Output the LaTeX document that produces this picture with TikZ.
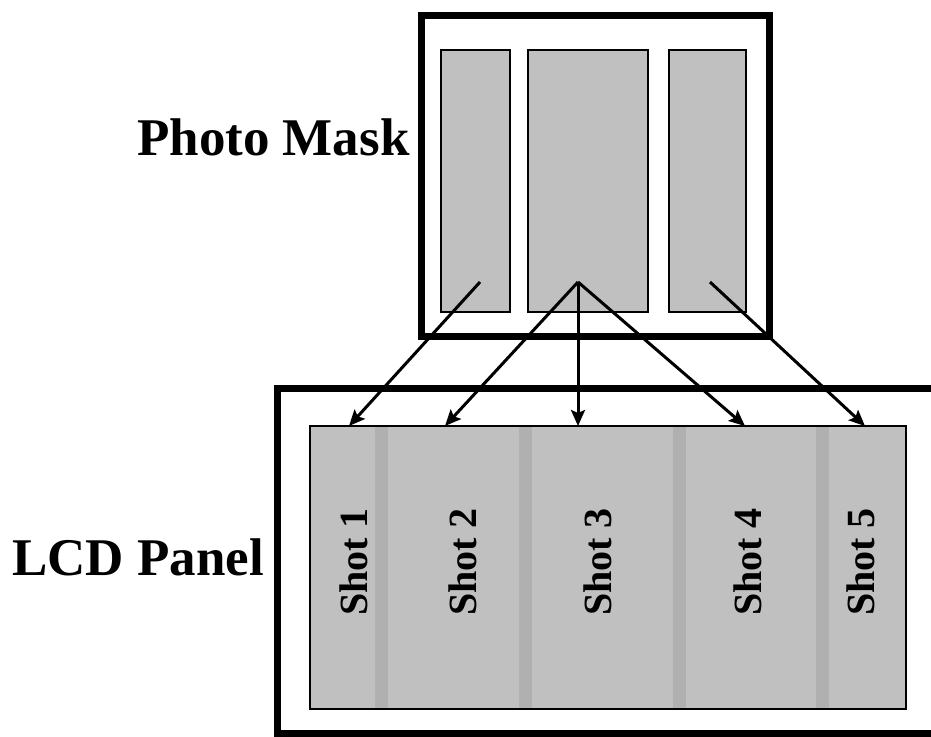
\documentclass[tikz,border=0pt]{standalone}
\usepackage{fontspec}
\setmainfont{Liberation Serif}
\usetikzlibrary{arrows.meta}
\definecolor{maskgray}{RGB}{192,192,192}
\definecolor{seamgray}{RGB}{176,176,176}

\begin{document}
\begin{tikzpicture}[x=1pt,y=-1pt,
    frame/.style={draw, line width=7pt},
    window/.style={draw, line width=1.5pt, fill=maskgray, rectangle, inner sep=0pt},
    beam/.style={-{Stealth[length=16pt,width=14pt,inset=3pt]}, line width=3pt},
    shotlabel/.style={rotate=90, inner sep=0pt, font=\bfseries\fontsize{40}{40}\selectfont},
    biglabel/.style={inner sep=0pt, font=\bfseries\fontsize{53}{53}\selectfont}]
    \useasboundingbox (0,0) rectangle (931,736);
    \clip (0,0) rectangle (931,736);

    % photo mask
    \draw[frame] (421,15.5) rectangle (769,336);
    \node[window, minimum width=69pt, minimum height=262pt] (mL) at (475.5,181) {};
    \node[window, minimum width=120pt, minimum height=262pt] (mC) at (588,181) {};
    \node[window, minimum width=77pt, minimum height=262pt] (mR) at (707.5,181) {};
    \node[biglabel, anchor=base west] (masklabel) at (137,155) {Photo Mask};

    % lcd panel
    \draw[frame] (277,388) rectangle (990,733);
    \node[fill=maskgray, minimum width=596pt, minimum height=283pt, inner sep=0pt] (panel) at (608,567.5) {};
    \fill[seamgray] (375,427) rectangle (388,708);
    \fill[seamgray] (519,427) rectangle (532,708);
    \fill[seamgray] (673,427) rectangle (686,708);
    \fill[seamgray] (816,427) rectangle (829,708);
    \draw[line width=1.5pt] (panel.north west) rectangle (panel.south east);
    \node[biglabel, anchor=base west] (panellabel) at (12,575) {LCD Panel};

    \node[shotlabel] (shot1) at (354,562) {Shot 1};
    \node[shotlabel] (shot2) at (463,562) {Shot 2};
    \node[shotlabel] (shot3) at (598,562) {Shot 3};
    \node[shotlabel] (shot4) at (748,562) {Shot 4};
    \node[shotlabel] (shot5) at (861,562) {Shot 5};

    % exposures
    \coordinate (oL) at (480,282);
    \coordinate (oC) at (578,282);
    \coordinate (oR) at (710,282);
    \coordinate (s1) at (349,426);
    \coordinate (s2) at (445,426);
    \coordinate (s3) at (578,426);
    \coordinate (s4) at (745,426);
    \coordinate (s5) at (865,426);
    \draw[beam] (oL) -- (s1);
    \draw[beam] (oC) -- (s2);
    \draw[beam] (oC) -- (s3);
    \draw[beam] (oC) -- (s4);
    \draw[beam] (oR) -- (s5);
\end{tikzpicture}
\end{document}
